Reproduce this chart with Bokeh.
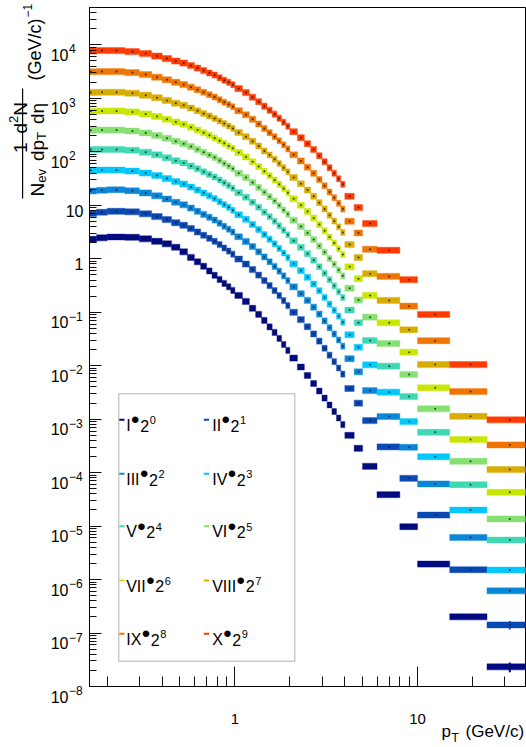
import numpy as np
from bokeh.plotting import figure
from bokeh.layouts import row, column
from bokeh.models import Label, BoxAnnotation, FixedTicker, CustomJSTickFormatter, Range1d
from bokeh.embed import file_html
from bokeh.resources import INLINE

# ---------------------------------------------------------------- data
# transverse-momentum bin edges (GeV/c)
pt_edges = [0.15, 0.175, 0.2, 0.25, 0.3, 0.35, 0.4, 0.45, 0.5, 0.55, 0.6, 0.65,
            0.7, 0.75, 0.8, 0.85, 0.9, 0.95, 1.0, 1.1, 1.2, 1.3, 1.4, 1.5, 1.6,
            1.7, 1.8, 1.9, 2.0, 2.2, 2.4, 2.6, 2.8, 3.0, 3.2, 3.4, 3.6, 3.8, 4.0,
            4.5, 5.0, 6.0, 8.0, 10.0, 15.0, 24.0, 40.0]

# per-event yields 1/Nev d2N/dpT deta, each class already scaled by 2^n
yield_I = [2.31, 2.46, 2.55, 2.52, 2.36, 2.12, 1.90, 1.64, 1.35, 1.06, 0.875, 0.721,
           0.593, 0.489, 0.411, 0.346, 0.298, 0.256, 0.206, 0.159, 0.118, 0.0910,
           0.0702, 0.0531, 0.0418, 0.0323, 0.0249, 0.0193, 0.0139, 9.46e-3, 6.56e-3,
           4.64e-3, 3.36e-3, 2.48e-3, 1.84e-3, 1.39e-3, 1.05e-3, 7.92e-4, 4.99e-4,
           2.85e-4, 1.31e-4, 3.87e-5, 9.75e-6, 1.95e-6, 2.01e-7, 2.33e-8]
yield_II = [6.99, 7.40, 7.72, 7.55, 6.93, 6.14, 5.40, 4.72, 4.22, 3.66, 3.18, 2.75,
            2.41, 2.12, 1.84, 1.59, 1.39, 1.22, 0.987, 0.796, 0.628, 0.495, 0.391,
            0.315, 0.254, 0.205, 0.165, 0.133, 0.0996, 0.0730, 0.0535, 0.0392,
            0.0288, 0.0212, 0.0157, 0.0119, 9.06e-3, 6.96e-3, 3.74e-3, 1.99e-3,
            9.42e-4, 3.03e-4, 7.82e-5, 1.61e-5, 1.53e-6, 1.42e-7]
yield_III = [18.5, 19.1, 19.5, 18.7, 17.0, 15.0, 13.1, 11.4, 10.2, 8.87, 7.72, 6.75,
             5.96, 5.28, 4.62, 4.04, 3.57, 3.15, 2.58, 2.11, 1.69, 1.35, 1.08, 0.879,
             0.717, 0.586, 0.478, 0.391, 0.298, 0.222, 0.166, 0.124, 0.0922, 0.0687,
             0.0513, 0.0392, 0.0302, 0.0232, 0.0135, 7.69e-3, 3.43e-3, 1.12e-3,
             2.98e-4, 6.14e-5, 6.14e-6, 6.17e-7]
yield_IV = [45.2, 45.6, 45.6, 43.7, 40.1, 36.0, 31.6, 27.8, 24.9, 21.9, 19.3, 16.9,
            15.0, 13.4, 11.7, 10.3, 9.14, 8.10, 6.67, 5.47, 4.39, 3.52, 2.83, 2.32,
            1.90, 1.56, 1.28, 1.05, 0.803, 0.601, 0.450, 0.337, 0.253, 0.189, 0.142,
            0.109, 0.0842, 0.0650, 0.0379, 0.0221, 0.0104, 3.19e-3, 9.02e-4,
            1.99e-4, 2.00e-5, 1.51e-6]
yield_V = [110, 111, 111, 107, 97.9, 87.9, 77.6, 68.4, 61.7, 54.5, 48.0, 42.4, 37.7,
           33.7, 29.8, 26.3, 23.4, 20.8, 17.2, 14.2, 11.4, 9.21, 7.43, 6.12, 5.04,
           4.15, 3.42, 2.81, 2.17, 1.64, 1.24, 0.937, 0.708, 0.535, 0.404, 0.312,
           0.242, 0.188, 0.110, 0.0636, 0.0296, 9.79e-3, 2.65e-3, 5.68e-4, 5.96e-5,
           5.49e-6]
yield_VI = [254, 256, 256, 245, 225, 202, 179, 158, 142, 126, 111, 97.9, 87.1, 77.9,
            68.7, 60.6, 54.0, 48.0, 39.9, 33.0, 26.7, 21.6, 17.5, 14.5, 12.0, 9.91,
            8.20, 6.78, 5.26, 3.99, 3.03, 2.30, 1.74, 1.33, 1.01, 0.789, 0.614,
            0.479, 0.281, 0.169, 0.0809, 0.0260, 6.84e-3, 1.56e-3, 1.63e-4, 1.36e-5]
yield_VII = [576, 581, 581, 556, 511, 458, 406, 360, 326, 289, 256, 227, 203, 182,
             161, 144, 129, 116, 96.6, 80.3, 65.3, 53.1, 43.1, 35.8, 29.8, 24.7,
             20.5, 17.1, 13.2, 10.0, 7.62, 5.78, 4.39, 3.33, 2.54, 1.98, 1.54, 1.20,
             0.705, 0.424, 0.206, 0.0636, 0.0179, 3.86e-3, 4.15e-4, 4.28e-5]
yield_VIII = [1290, 1300, 1300, 1250, 1140, 1030, 913, 813, 739, 658, 586, 521, 468,
              422, 377, 338, 304, 274, 230, 192, 157, 128, 104, 87.1, 72.7, 60.7,
              50.6, 42.2, 33.0, 25.3, 19.3, 14.7, 11.2, 8.53, 6.50, 5.06, 3.96, 3.10,
              1.84, 1.05, 0.526, 0.166, 0.0470, 0.0105, 1.13e-3, 1.14e-4]
yield_IX = [3140, 3160, 3160, 3030, 2780, 2490, 2220, 1990, 1810, 1620, 1450, 1300,
            1170, 1060, 946, 849, 769, 696, 588, 493, 405, 332, 272, 228, 192, 161,
            135, 113, 88.2, 67.5, 51.7, 39.6, 30.3, 23.2, 17.7, 13.9, 10.9, 8.49,
            5.02, 3.03, 1.50, 0.468, 0.130, 0.0293, 3.29e-3, 3.30e-4]
yield_X = [7750, 7820, 7820, 7490, 6870, 6170, 5540, 4970, 4560, 4100, 3680, 3300,
           2990, 2720, 2440, 2190, 1990, 1800, 1520, 1280, 1050, 868, 714, 601, 506,
           426, 358, 302, 238, 184, 142, 110, 84.5, 65.3, 50.4, 39.7, 31.4, 24.7,
           14.7, 9.06, 4.54, 1.44, 0.406, 0.0910, 0.0105, 9.70e-4]

class_names = ["I", "II", "III", "IV", "V", "VI", "VII", "VIII", "IX", "X"]
scale_exponents = [0, 1, 2, 3, 4, 5, 6, 7, 8, 9]
class_yields = [yield_I, yield_II, yield_III, yield_IV, yield_V,
                yield_VI, yield_VII, yield_VIII, yield_IX, yield_X]
# relative statistical uncertainty of the highest-pT bin
last_bin_stat_err = [0.21, 0.18, 0.08, 0.06, 0.05, 0.05, 0.04, 0.04, 0.04, 0.04]

class_colors = ["#000a82", "#0a48b4", "#0a86d8", "#00c8fa", "#3ed8b4",
                "#86e072", "#c8e600", "#d9ac00", "#f07400", "#ff3b00"]

x_range = (0.16, 39.0)
y_range = (1e-8, 5e4)
y_decades = list(range(-8, 5))
x_major = [1, 10]
x_minor = [0.2, 0.3, 0.4, 0.5, 0.6, 0.7, 0.8, 0.9, 2, 3, 4, 5, 6, 7, 8, 9, 20, 30]

# ---------------------------------------------------------------- layout
W, H = 526, 747
FRAME_L, FRAME_R, FRAME_T, FRAME_B = 89, 525, 7, 686   # canvas pixels of the frame
STRIP_W = 85                 # left strip: y tick labels and y title
MAIN_W = W - STRIP_W         # main plot (frame + thin borders)
MAIN_H = 706                 # main plot height; the rest is the bottom strip
BOT_H = H - MAIN_H
FRAME_H = FRAME_B - FRAME_T
FONT = "Liberation Sans"

# Helvetica-like advance widths (em) for placing pieces of composed labels
ADV = {"I": 0.278, "V": 0.667, "X": 0.667, "N": 0.722, "e": 0.556, "v": 0.5,
       "d": 0.556, "p": 0.556, "T": 0.611, "(": 0.333, ")": 0.333, "G": 0.778,
       "/": 0.278, "c": 0.5, " ": 0.278, "\u2212": 0.584}


def text_w(s, size):
    return sum(ADV.get(ch, 0.556) for ch in s) * size


def label(fig, text, x, y, size, x_units="screen", y_units="screen", angle=0,
          align="left", baseline="alphabetic", y_offset=0):
    fig.add_layout(Label(x=x, y=y, x_units=x_units, y_units=y_units, text=text,
                         angle=angle, angle_units="deg", y_offset=y_offset,
                         text_align=align, text_baseline=baseline, text_font=FONT,
                         text_font_size=f"{size}px", text_color="black"))


# ---------------------------------------------------------------- main plot
p = figure(width=MAIN_W, height=MAIN_H, x_axis_type="log", y_axis_type="log",
           x_range=x_range, y_range=y_range,
           output_backend="svg", toolbar_location=None,
           min_border_left=FRAME_L - STRIP_W, min_border_right=W - FRAME_R,
           min_border_top=FRAME_T, min_border_bottom=MAIN_H - FRAME_B)
p.grid.visible = False
p.outline_line_color = "black"
p.outline_line_width = 1

p.xaxis.ticker = FixedTicker(ticks=x_major, minor_ticks=x_minor)
p.yaxis.ticker = FixedTicker(
    ticks=[10.0 ** k for k in y_decades],
    minor_ticks=[m * 10.0 ** k for k in y_decades for m in range(2, 10)])
for ax in (p.xaxis[0], p.yaxis[0]):
    ax.formatter = CustomJSTickFormatter(code="return ''")
    ax.major_label_text_font_size = "0px"
    ax.axis_line_color = "black"
    ax.major_tick_line_color = "#111111"
    ax.minor_tick_line_color = "#111111"
    ax.major_tick_out = 0
    ax.minor_tick_out = 0
    ax.major_label_standoff = 0
p.xaxis.major_tick_in = 20
p.xaxis.minor_tick_in = 10
p.yaxis.major_tick_in = 12
p.yaxis.minor_tick_in = 7

edges = np.array(pt_edges)
left, right = edges[:-1], edges[1:]
centers = 0.5 * (left + right)
decade_px = FRAME_H / np.log10(y_range[1] / y_range[0])
box_half = 10 ** (3.0 / decade_px)   # boxes are ~6 px tall on screen

for vals, color, err in zip(class_yields, class_colors, last_bin_stat_err):
    v = np.array(vals)
    p.quad(left=left, right=right, top=v * box_half, bottom=v / box_half,
           fill_color=color, line_color=color, line_alpha=0.35, line_width=1.2)
    p.segment(x0=[centers[-1]], x1=[centers[-1]],
              y0=[v[-1] * (1 - err)], y1=[v[-1] * (1 + err)],
              line_color=color, line_width=2)
    p.scatter(x=centers, y=v, size=2, fill_color="#1a1a1a", line_color=None,
              fill_alpha=0.85)


def fx(px):
    """canvas x -> main-frame screen x"""
    return px - FRAME_L


def fy(py):
    """canvas y -> main-frame screen y (up from frame bottom)"""
    return FRAME_B - py


# legend
p.add_layout(BoxAnnotation(left=fx(118.3), right=fx(294.3), top=fy(393.3),
                           bottom=fy(660.7), left_units="screen",
                           right_units="screen", top_units="screen",
                           bottom_units="screen", fill_color="white", fill_alpha=1,
                           line_color="black", line_width=1))
legend_rows = [419.3, 473.3, 525.7, 580.0, 633.3]
legend_cols = [(118.8, 125.7), (203.3, 211.7)]
for i, (name, n, color) in enumerate(zip(class_names, scale_exponents, class_colors)):
    r, c = divmod(i, 2)
    yc = legend_rows[r]
    mx, tx = legend_cols[c]
    p.add_layout(BoxAnnotation(left=fx(mx), right=fx(mx + 5.2), top=fy(yc - 1),
                               bottom=fy(yc + 1), left_units="screen",
                               right_units="screen", top_units="screen",
                               bottom_units="screen", fill_color=color,
                               fill_alpha=1, line_color=None))
    rw = text_w(name, 16)
    label(p, name, fx(tx), fy(yc + 5.7), 16)
    label(p, "\u2022", fx(tx + rw + 4.6), fy(yc), 24, align="center",
          baseline="middle")
    label(p, "2", fx(tx + rw + 9.5), fy(yc + 5.7), 16)
    label(p, str(n), fx(tx + rw + 19.0), fy(yc + 0.5), 11)

# ---------------------------------------------------------------- left strip
# same log mapping as the main frame, extended over the full strip height
lo = np.log10(y_range[0]) - (H - FRAME_B) / decade_px
hi = np.log10(y_range[1]) + FRAME_T / decade_px
ys = figure(width=STRIP_W, height=H, x_range=(0, STRIP_W),
            y_range=Range1d(10 ** lo, 10 ** hi), y_axis_type="log",
            x_axis_location=None, y_axis_location=None,
            output_backend="svg", toolbar_location=None,
            min_border_left=0, min_border_right=0, min_border_top=0,
            min_border_bottom=0)
ys.outline_line_color = None
ys.grid.visible = False

for k in y_decades:
    if k in (0, 1):
        label(ys, str(10 ** k), 83, 10.0 ** k, 16, x_units="data", y_units="data",
              align="right", y_offset=-5.7)
    else:
        exp = str(k) if k > 0 else "\u2212" + str(-k)
        label(ys, "10", 68, 10.0 ** k, 16, x_units="data", y_units="data",
              align="right", y_offset=-10)
        label(ys, exp, 68.5, 10.0 ** k, 12, x_units="data", y_units="data",
              y_offset=-4)


def sy_(py):
    """canvas y -> strip screen y (up from the strip bottom)"""
    return H - py


# rotated title: 1 d2N / (Nev dpT deta)  (GeV/c)^-1
fs, fsub = 19, 13
yy = 196.0
label(ys, "N", 37, sy_(yy), fs, x_units="data", angle=90)
yy -= text_w("N", fs)
label(ys, "ev", 40.5, sy_(yy), fsub, x_units="data", angle=90)
yy -= text_w("ev", fsub) + 8
label(ys, "dp", 37, sy_(yy), fs, x_units="data", angle=90)
yy -= text_w("dp", fs)
label(ys, "T", 40.5, sy_(yy), fsub, x_units="data", angle=90)
yy -= text_w("T", fsub) + 8
label(ys, "d\u03b7", 37, sy_(yy), fs, x_units="data", angle=90)

label(ys, "1", 20, sy_(152.5), fs, x_units="data", angle=90)
yy = 133.0
label(ys, "d", 20, sy_(yy), fs, x_units="data", angle=90)
yy -= text_w("d", fs)
label(ys, "2", 13, sy_(yy), fsub, x_units="data", angle=90)
yy -= text_w("2", fsub)
label(ys, "N", 20, sy_(yy), fs, x_units="data", angle=90)

ys.add_layout(BoxAnnotation(left=21.5, right=22.7, top=sy_(88), bottom=sy_(198),
                            left_units="data", right_units="data",
                            top_units="screen", bottom_units="screen",
                            fill_color="black", fill_alpha=1, line_color=None))

label(ys, "(GeV/c)", 34, sy_(80), 18, x_units="data", angle=90)
label(ys, "\u22121", 27, sy_(80 - text_w("(GeV/c)", 18) - 1), 12, x_units="data",
      angle=90)

# ---------------------------------------------------------------- bottom strip
xs = figure(width=MAIN_W, height=BOT_H, x_axis_type="log", x_range=p.x_range,
            y_range=(0, BOT_H), x_axis_location=None, y_axis_location=None,
            output_backend="svg", toolbar_location=None,
            min_border_left=FRAME_L - STRIP_W, min_border_right=W - FRAME_R,
            min_border_top=0, min_border_bottom=0)
xs.outline_line_color = None
xs.grid.visible = False


def by(py):
    """canvas y -> bottom-strip screen y (up from the strip bottom)"""
    return H - py


for t in x_major:
    label(xs, str(t), t, by(718), 15, x_units="data", align="center")

label(xs, "p", fx(441), by(731), 17)
label(xs, "T", fx(451), by(737), 12)
label(xs, "(GeV/c)", fx(465), by(731), 17)

layout = row(ys, column(p, xs))
open("out.html", "w").write(file_html(layout, INLINE))
